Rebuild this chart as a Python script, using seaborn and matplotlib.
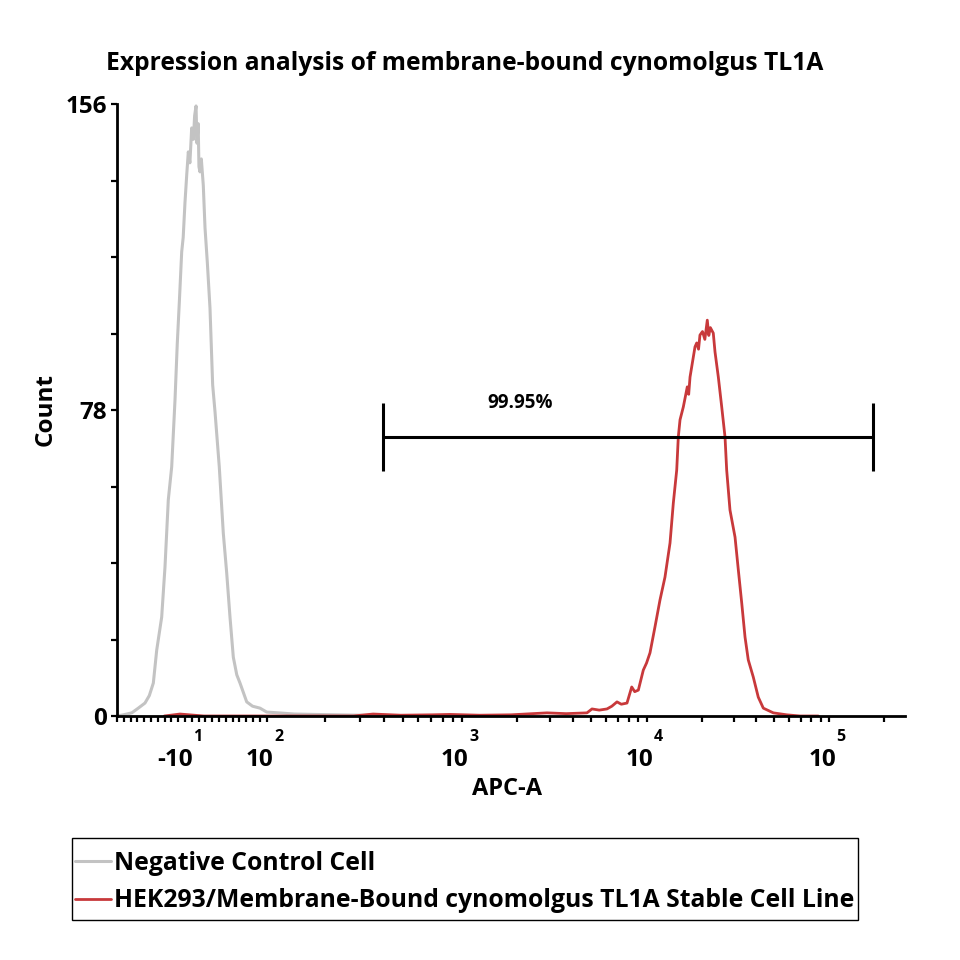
import numpy as np
import pandas as pd
import seaborn as sns
import matplotlib.pyplot as plt
from matplotlib.patches import Rectangle

# histogram readings, x in display channels (0-1000), y in counts
neg_channel = [0, 8, 18.7, 27, 35.5, 41, 46.1, 50.4, 56.7, 60.9,
               65.1, 69.4, 73.6, 76.5, 79.1, 82.1, 84, 86.3, 88.5, 90.5,
               92.5, 94.8, 97, 98.5, 100.3, 101.5, 103, 104, 105.3, 107,
               109.5, 111.7, 114.6, 118, 121.4, 124.4, 129.8, 134.9, 139.2, 143.4,
               147.6, 152, 156.1, 164.6, 172, 181.5, 190, 205, 225, 250,
               280, 310, 340]
neg_count = [0, 0.3, 0.8, 2.0, 3.3, 5.2, 8.4, 16.8, 25.2, 38.0,
             55.1, 63.5, 80.5, 95.0, 105.5, 118.3, 122, 131.0, 138, 143.8,
             141, 149.9, 147, 153, 155.5, 146, 151, 140, 138.7, 142,
             135.3, 124.4, 115.7, 104.0, 84.4, 77.5, 63.5, 46.6, 36.5, 25.2,
             15.0, 10.5, 8.4, 3.6, 2.5, 2.0, 1.0, 0.8, 0.5, 0.4,
             0.3, 0.2, 0.1]

pos_channel = [60, 80, 110, 300, 325, 360, 400, 422.6, 460, 500,
               545.7, 570, 596.4, 602.8, 612, 621.8, 628, 634.5, 640, 647.2,
               653.2, 657, 661.6, 667.9, 672, 676.4, 682.7, 689.1, 695.4, 701.8,
               706, 710.3, 712.3, 714.5, 718.7, 723.7, 725.5, 727.2, 733.5, 735.7,
               738, 739.8, 743, 746, 749.1, 751, 753, 756.7, 758.9, 763.1,
               767.4, 771.6, 773.7, 777.9, 784.3, 788.5, 792.8, 797, 801.1, 807.5,
               813.8, 820.2, 832.9, 849.9, 866.8, 890]
pos_count = [0, 0.5, 0, 0, 0.5, 0.2, 0.3, 0.4, 0.2, 0.3,
             0.8, 0.6, 0.8, 1.8, 1.5, 1.8, 2.5, 3.6, 3.0, 3.3,
             7.4, 6.2, 6.6, 11.7, 13.5, 16.1, 22.7, 29.6, 35.4, 44.1,
             54.3, 62.7, 71.1, 75.5, 78.8, 83.9, 82, 86.4, 94.1, 95.1,
             93.5, 97.1, 98, 96, 100.9, 97, 99, 97.6, 92.8, 86.4,
             78.8, 71.1, 62.7, 52.5, 45.6, 37.2, 28.8, 20.1, 14.3, 9.9,
             4.8, 2.0, 0.8, 0.3, 0, 0]

series_names = ["Negative Control Cell",
                "HEK293/Membrane-Bound cynomolgus TL1A Stable Cell Line"]

# biexponential axis: channel of each labelled decade
decade_base = ["-10", "10", "10", "10", "10"]
decade_exp = ["1", "2", "3", "4", "5"]
decade_channel = [87.6, 190.0, 437.4, 672.2, 903.6]

y_ticks = [0, 78, 156]

gate_left, gate_right, gate_count = 337.6, 959.4, 71.1
gate_text = "99.95%"

neg = pd.DataFrame({"APC-A": neg_channel, "Count": neg_count})
pos = pd.DataFrame({"APC-A": pos_channel, "Count": pos_count})

sns.set_theme(style="ticks")
plt.rcParams["font.family"] = ["Open Sans", "DejaVu Sans"]
plt.rcParams["font.weight"] = "bold"
for k in ["text.color", "axes.labelcolor", "xtick.color", "ytick.color"]:
    plt.rcParams[k] = "black"

fig = plt.figure(figsize=(9.6, 9.6), dpi=100)
ax = fig.add_axes([117 / 960, 1 - 716 / 960, 788 / 960, 612 / 960])

sns.lineplot(data=neg, x="APC-A", y="Count", color="#c3c3c3", lw=2.2,
             sort=False, estimator=None, ax=ax, label=series_names[0])
sns.lineplot(data=pos, x="APC-A", y="Count", color="#c8393b", lw=2.0,
             sort=False, estimator=None, ax=ax, label=series_names[1])

ax.set_xlim(0, 1000)
ax.set_ylim(0, 156)
sns.despine(ax=ax)
for s in ["left", "bottom"]:
    ax.spines[s].set_linewidth(2.0)
    ax.spines[s].set_color("black")

# ticks: linear part near zero, log minors above 10^2
lin_minor = list(np.linspace(0, 190, 23))
log_minor = []
spans = [(190.0, 437.4), (437.4, 672.2), (672.2, 903.6), (903.6, 1134.6)]
for a, b in spans:
    for m in range(2, 10):
        c = a + np.log10(m) * (b - a)
        if c <= 1000:
            log_minor.append(c)
ax.set_xticks(decade_channel[1:])
ax.set_xticklabels([])
ax.set_xticks(lin_minor + log_minor, minor=True)
ax.tick_params(axis="x", which="both", direction="out", length=4, width=1.6)

ax.set_yticks(y_ticks)
ax.set_yticks(np.arange(0, 157, 19.5), minor=True)
ax.set_yticklabels([str(v) for v in y_ticks], fontsize=17.5, fontweight="bold")
ax.tick_params(axis="y", which="both", direction="out", length=4, width=1.6,
               pad=3)

for base, ex, c in zip(decade_base, decade_exp, decade_channel):
    ax.annotate(base, xy=(c, 0), xycoords=("data", "axes fraction"),
                xytext=(5, -44 / 1.389), textcoords="offset points",
                ha="right", va="center", fontsize=17.5, fontweight="bold")
    ax.annotate(ex, xy=(c, 0), xycoords=("data", "axes fraction"),
                xytext=(12 / 1.389, -21 / 1.389), textcoords="offset points",
                ha="center", va="center", fontsize=11.5, fontweight="bold")

ax.set_xlabel("APC-A", fontsize=17, fontweight="bold")
ax.set_ylabel("Count", fontsize=17.5, fontweight="bold")
ax.xaxis.set_label_coords((507 - 117) / 788, -(777 - 716) / 612)
ax.yaxis.set_label_coords((58 - 117) / 788, (716 - 410) / 612)

# gate marker
ax.hlines(gate_count, gate_left, gate_right, color="black", lw=2.2)
ax.vlines([gate_left, gate_right], gate_count - 8.6, gate_count + 8.6,
          color="black", lw=2.2)
ax.text((gate_left + gate_right) / 2 - 137, gate_count + 8.7, gate_text,
        ha="center", va="center", fontsize=13.5, fontweight="bold")

fig.text(465 / 960, 1 - 63 / 960,
         "Expression analysis of membrane-bound cynomolgus TL1A",
         ha="center", va="center", fontsize=17.7, fontweight="bold")

# legend below the plot, boxed
handles, labels = ax.get_legend_handles_labels()
ax.get_legend().remove()
leg = fig.legend(handles, labels, loc="upper left",
                 bbox_to_anchor=(75 / 960, 1 - 851 / 960),
                 frameon=False, fontsize=17.8, handlelength=1.45,
                 handletextpad=0.12, borderpad=0, labelspacing=0.5,
                 borderaxespad=0)
for t in leg.get_texts():
    t.set_fontweight("bold")
fig.patches.append(Rectangle((71.7 / 960, 1 - 920 / 960),
                             (858 - 71.7) / 960, 82 / 960,
                             transform=fig.transFigure, fill=False,
                             edgecolor="black", lw=1.0))

fig.savefig("out.png", dpi=100)
